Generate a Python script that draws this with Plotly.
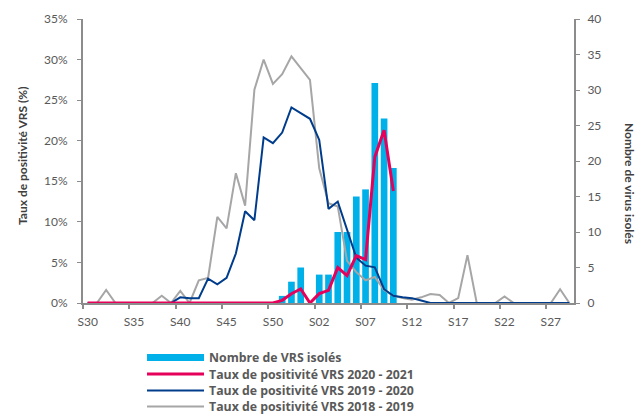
import plotly.graph_objects as go

weeks = ["S30", "S31", "S32", "S33", "S34", "S35", "S36", "S37", "S38", "S39",
         "S40", "S41", "S42", "S43", "S44", "S45", "S46", "S47", "S48", "S49",
         "S50", "S51", "S52", "S53",
         "S01", "S02", "S03", "S04", "S05", "S06", "S07", "S08", "S09", "S10",
         "S11", "S12", "S13", "S14", "S15", "S16", "S17", "S18", "S19", "S20",
         "S21", "S22", "S23", "S24", "S25", "S26", "S27", "S28", "S29"]

nb_vrs = [0, 0, 0, 0, 0, 0, 0, 0, 0, 0,
          0, 0, 0, 0, 0, 0, 0, 0, 0, 0,
          0, 1, 3, 5,
          0, 4, 4, 10, 10, 15, 16, 31, 26, 19,
          None, None, None, None, None, None, None, None, None, None,
          None, None, None, None, None, None, None, None, None]

taux_2020_2021 = [0, 0, 0, 0, 0, 0, 0, 0, 0, 0,
                  0, 0, 0, 0, 0, 0, 0, 0, 0, 0,
                  0, 0.33, 1.15, 1.73,
                  0, 1.15, 1.56, 4.36, 3.37, 5.84, 5.35, 18.0, 21.3, 13.8,
                  None, None, None, None, None, None, None, None, None, None,
                  None, None, None, None, None, None, None, None, None]

taux_2019_2020 = [0, 0, 0, 0, 0, 0, 0, 0, 0, 0,
                  0.7, 0.6, 0.6, 3.0, 2.3, 3.1, 6.1, 11.3, 10.2, 20.4,
                  19.7, 21.0, 24.1, 23.4,
                  22.7, 20.1, 11.6, 12.5, 8.9, 5.6, 4.6, 4.4, 1.7, 0.9,
                  0.7, 0.6, 0.3, 0, 0, 0, 0, 0, 0, 0,
                  0, 0, 0, 0, 0, 0, 0, 0, 0]

taux_2018_2019 = [0, 0, 1.6, 0, 0, 0, 0, 0, 0.9, 0,
                  1.5, 0, 2.8, 3.1, 10.6, 9.2, 16.0, 12.0, 26.3, 30.0,
                  27.0, 28.2, 30.4, 29.0,
                  27.5, 16.6, 12.3, 11.9, 5.2, 3.8, 2.8, 3.2, 1.6, 0.9,
                  0.6, 0.4, 0.7, 1.1, 1.0, 0, 0.6, 5.9, 0, 0,
                  0, 0.8, 0, 0, 0, 0, 0, 1.7, 0]

label_every = 5
xi = list(range(len(weeks)))
tick_idx = xi[::label_every]
tick_txt = [weeks[i] for i in tick_idx]
boundary_ticks = [i - 0.5 for i in tick_idx]

C_BAR = "#00B0E8"
C_RED = "#E5005A"
C_BLUE = "#003C8C"
C_GRAY = "#A6A6A6"
C_AXIS = "#8C8C8C"
C_TXT = "#595959"
FONT = "Lato"

fig = go.Figure()

# bars on the primary (right-side) count axis, lines on the overlaying % axis
fig.add_trace(go.Bar(x=xi, y=nb_vrs, yaxis="y", marker_color=C_BAR,
                     marker_line_width=0, width=0.72, showlegend=False,
                     name="Nombre de VRS isolés"))
fig.add_trace(go.Scatter(x=[None], y=[None], mode="lines", yaxis="y",
                         line=dict(color=C_BAR, width=7),
                         name="Nombre de VRS isolés", legend="legend"))
fig.add_trace(go.Scatter(x=xi, y=taux_2018_2019, mode="lines", yaxis="y2",
                         line=dict(color=C_GRAY, width=2),
                         name="Taux de positivité VRS 2018 - 2019",
                         legend="legend4"))
fig.add_trace(go.Scatter(x=xi, y=taux_2019_2020, mode="lines", yaxis="y2",
                         line=dict(color=C_BLUE, width=2),
                         name="Taux de positivité VRS 2019 - 2020",
                         legend="legend3"))
fig.add_trace(go.Scatter(x=xi, y=taux_2020_2021, mode="lines", yaxis="y2",
                         line=dict(color=C_RED, width=3),
                         name="Taux de positivité VRS 2020 - 2021",
                         legend="legend2"))

PLOT_TOP, PLOT_BOT = 19, 303
PH = PLOT_BOT - PLOT_TOP


def py(p):
    return (PLOT_BOT - p) / PH


leg_font = dict(family="Open Sans", size=12.3, color=C_TXT, weight="bold")
LEG_X = 0.1202


def leg(row_px):
    return dict(x=LEG_X, y=py(row_px), xanchor="left", yanchor="middle",
                itemwidth=57, font=leg_font, bgcolor="rgba(0,0,0,0)",
                borderwidth=0)


fig.update_layout(
    width=638, height=414,
    margin=dict(l=83, r=64, t=PLOT_TOP, b=414 - PLOT_BOT, autoexpand=False),
    paper_bgcolor="white", plot_bgcolor="white",
    font=dict(family=FONT, size=12, color=C_TXT),
    showlegend=True,
    xaxis=dict(range=[-0.5, len(weeks) - 0.5], tickmode="array",
               tickvals=tick_idx, ticktext=tick_txt, ticks="",
               ticklabelstandoff=7,
               showline=True, linecolor=C_AXIS, linewidth=2,
               showgrid=False, zeroline=False,
               minor=dict(tickmode="array", tickvals=boundary_ticks,
                          ticks="outside", ticklen=4, tickcolor=C_AXIS,
                          tickwidth=1.5, showgrid=False),
               tickfont=dict(size=12, color=C_TXT)),
    yaxis=dict(range=[0, 40], dtick=5, side="right",
               ticks="outside", ticklen=4, tickcolor=C_AXIS, showline=True,
               ticklabelstandoff=5,
               linecolor=C_AXIS, linewidth=2, showgrid=False, zeroline=False,
               tickfont=dict(size=12, color=C_TXT)),
    yaxis2=dict(range=[0, 35], dtick=5, ticksuffix="%", overlaying="y",
                side="left", ticks="outside", ticklen=4, tickcolor=C_AXIS,
                ticklabelstandoff=7,
                showline=True, linecolor=C_AXIS, linewidth=2, showgrid=False,
                zeroline=False, tickfont=dict(size=12, color=C_TXT)),
    legend=leg(357.5),
    legend2=leg(374),
    legend3=leg(390.5),
    legend4=leg(406.5),
    annotations=[
        dict(text="<b>Taux de positivité VRS (%)</b>", textangle=-90,
             xref="paper", yref="paper", x=(22 - 83) / 491, y=py(156),
             xanchor="center", yanchor="middle", showarrow=False,
             font=dict(family=FONT, size=12, color="#404040")),
        dict(text="<b>Nombre de virus isolés</b>", textangle=90,
             xref="paper", yref="paper", x=(630 - 83) / 491, y=py(183),
             xanchor="center", yanchor="middle", showarrow=False,
             font=dict(family=FONT, size=12, color="#404040")),
    ],
)

fig.write_html(
    "out.html",
    config={"displayModeBar": False},
    post_script="document.body.style.margin='0';"
                "document.body.style.overflow='hidden';",
)
